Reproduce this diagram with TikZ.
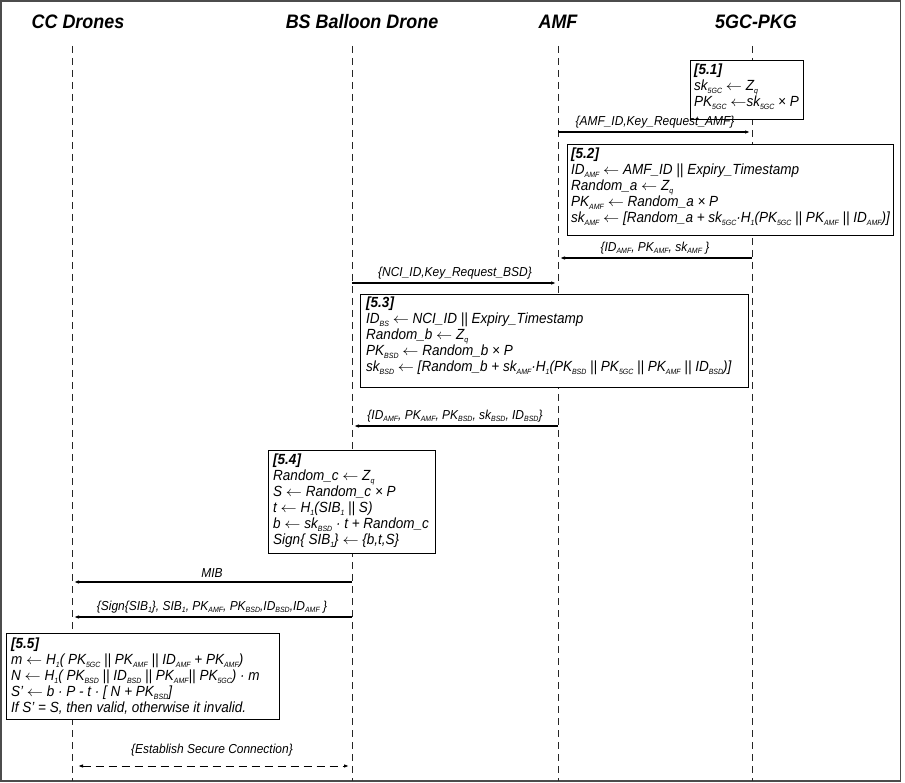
\documentclass[tikz,border=0pt]{standalone}
\usepackage{fontspec}
\setmainfont{Liberation Sans}[FakeStretch=0.92]
\usetikzlibrary{arrows.meta}
\newcommand\sbt[1]{\raisebox{-3pt}{\fontsize{7.6}{8}\selectfont #1}}
\newcommand\sbl[1]{\raisebox{-2.7pt}{\fontsize{7.6}{8}\selectfont #1}}
\newcommand\la{\scalebox{1.12}[1]{\ensuremath{\leftarrow}}}
\tikzset{
  hdr/.style={font=\fontsize{19.5}{22}\selectfont\bfseries\itshape, inner sep=0pt},
  life/.style={draw=black!85, line width=0.8pt, dash pattern=on 7pt off 5pt},
  boxst/.style={draw=black, line width=1.3pt, fill=white, inner sep=0pt, anchor=north west},
  txt/.style={font=\fontsize{14.7}{16}\selectfont\itshape, align=left, inner sep=0pt, anchor=north west},
  msg/.style={draw=black, line width=1.2pt, -{Latex[length=5pt,width=3.6pt]}, shorten >=2pt},
  lbl/.style={font=\fontsize{13}{15}\selectfont\itshape, inner sep=1pt, above=2.5pt},
  frame/.style={draw=black!70, line width=1.5pt}
}
\begin{document}
\begin{tikzpicture}[x=1pt,y=-1pt]
\useasboundingbox (0,0) rectangle (905,783);
\draw[frame] (1,1) rectangle (900.5,781);
% headers
\node[hdr] (h1) at (78,22) {CC Drones};
\node[hdr] (h2) at (362,22) {BS Balloon Drone};
\node[hdr] (h3) at (558,22) {AMF};
\node[hdr] (h4) at (756,22) {5GC-PKG};
% lifelines
\coordinate (l1t) at (72,46);  \coordinate (l1b) at (72,781);
\coordinate (l2t) at (352,46); \coordinate (l2b) at (352,781);
\coordinate (l3t) at (558,46); \coordinate (l3b) at (558,781);
\coordinate (l4t) at (752,46); \coordinate (l4b) at (752,781);
\draw[life] (l1t) -- (l1b);
\draw[life] (l2t) -- (l2b);
\draw[life] (l3t) -- (l3b);
\draw[life] (l4t) -- (l4b);
% box 5.1
\node[boxst, minimum width=113pt, minimum height=59pt] (b51) at (690,60) {};
\node[txt] (t51) at (694,64) {\textbf{[5.1]}\\
sk\sbt{5GC} \la{} Z\sbt{q}\\
PK\sbt{5GC} \la{}sk\sbt{5GC} × P};
% box 5.2
\node[boxst, minimum width=326pt, minimum height=91pt] (b52) at (567,144) {};
\node[txt] (t52) at (571,148) {\textbf{[5.2]}\\
ID\sbt{AMF} \la{} AMF\_ID || Expiry\_Timestamp\\
Random\_a \la{} Z\sbt{q}\\
PK\sbt{AMF} \la{} Random\_a × P\\
sk\sbt{AMF} \la{} [Random\_a + sk\sbt{5GC}·H\sbt{1}(PK\sbt{5GC} || PK\sbt{AMF} || ID\sbt{AMF})]};
% box 5.3
\node[boxst, minimum width=388pt, minimum height=93pt] (b53) at (360,294) {};
\node[txt] (t53) at (366,297) {\textbf{[5.3]}\\
ID\sbt{BS} \la{} NCI\_ID || Expiry\_Timestamp\\
Random\_b \la{} Z\sbt{q}\\
PK\sbt{BSD} \la{} Random\_b × P\\
sk\sbt{BSD} \la{} [Random\_b + sk\sbt{AMF}·H\sbt{1}(PK\sbt{BSD} || PK\sbt{5GC} || PK\sbt{AMF} || ID\sbt{BSD})]};
% box 5.4
\node[boxst, minimum width=167pt, minimum height=103pt] (b54) at (268,450) {};
\node[txt] (t54) at (273,454) {\textbf{[5.4]}\\
Random\_c \la{} Z\sbt{q}\\
S \la{} Random\_c × P\\
t \la{} H\sbt{1}(SIB\sbt{1} || S)\\
b \la{} sk\sbt{BSD} · t + Random\_c\\
Sign\{ SIB\sbt{1}\} \la{} \{b,t,S\}};
% box 5.5
\node[boxst, minimum width=273pt, minimum height=86pt] (b55) at (6,633) {};
\node[txt] (t55) at (11,638) {\textbf{[5.5]}\\
m \la{} H\sbt{1}( PK\sbt{5GC} || PK\sbt{AMF} || ID\sbt{AMF} + PK\sbt{AMF})\\
N \la{} H\sbt{1}( PK\sbt{BSD} || ID\sbt{BSD} || PK\sbt{AMF}|| PK\sbt{5GC}) · m\\
S' \la{} b · P - t · [ N + PK\sbt{BSD}]\\
If S' = S, then valid, otherwise it invalid.};
% message end points
\coordinate (m1a) at (558,132); \coordinate (m1b) at (752,132);
\coordinate (m2a) at (752,258); \coordinate (m2b) at (558,258);
\coordinate (m3a) at (352,283); \coordinate (m3b) at (558,283);
\coordinate (m4a) at (558,426); \coordinate (m4b) at (352,426);
\coordinate (m5a) at (352,582); \coordinate (m5b) at (72,582);
\coordinate (m6a) at (352,617); \coordinate (m6b) at (72,617);
\coordinate (m7a) at (72,766);  \coordinate (m7b) at (352,766);
% messages
\draw[msg] (m1a) -- (m1b) node[lbl, midway] (n1) {\{AMF\_ID,Key\_Request\_AMF\}};
\draw[msg] (m2a) -- (m2b) node[lbl, midway] (n2) {\{ID\sbl{AMF}, PK\sbl{AMF}, sk\sbl{AMF} \}};
\draw[msg] (m3a) -- (m3b) node[lbl, midway] (n3) {\{NCI\_ID,Key\_Request\_BSD\}};
\draw[msg] (m4a) -- (m4b) node[lbl, midway] (n4) {\{ID\sbl{AMF}, PK\sbl{AMF}, PK\sbl{BSD}, sk\sbl{BSD}, ID\sbl{BSD}\}};
\draw[msg] (m5a) -- (m5b) node[lbl, midway] (n5) {MIB};
\draw[msg] (m6a) -- (m6b) node[lbl, midway] (n6) {\{Sign\{SIB\sbl{1}\}, SIB\sbl{1}, PK\sbl{AMF}, PK\sbl{BSD},ID\sbl{BSD},ID\sbl{AMF} \}};
\draw[msg, {Latex[length=5pt,width=3.6pt]}-{Latex[length=5pt,width=3.6pt]}, dash pattern=on 8pt off 5pt, line width=1pt, shorten <=6pt, shorten >=3pt] (m7a) -- (m7b) node[lbl, midway, above=6pt] (n7) {\{Establish Secure Connection\}};
\end{tikzpicture}
\end{document}
